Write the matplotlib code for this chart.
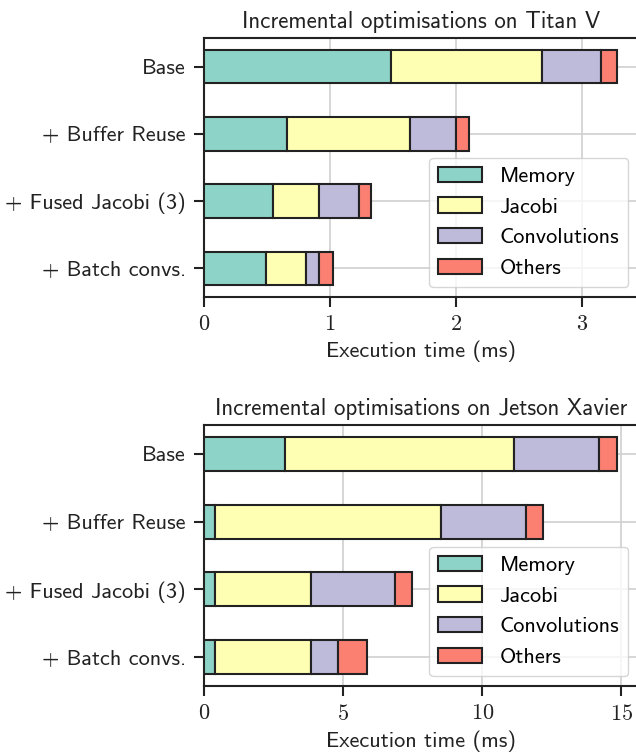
import numpy as np
import matplotlib
matplotlib.use('Agg')
import matplotlib.pyplot as plt

# Data (stacked, in ms).
configs = ['Base', '+ Buffer Reuse', '+ Fused Jacobi (3)', '+ Batch convs.']
parts = ['Memory', 'Jacobi', 'Convolutions', 'Others']
colors = ['#8dd3c7', '#ffffb3', '#bebada', '#fb8072']

titan_memory = [1.48, 0.66, 0.55, 0.49]
titan_jacobi = [1.20, 0.97, 0.36, 0.32]
titan_convs = [0.47, 0.37, 0.32, 0.10]
titan_others = [0.12, 0.10, 0.09, 0.11]

xavier_memory = [2.91, 0.41, 0.40, 0.40]
xavier_jacobi = [8.22, 8.10, 3.45, 3.45]
xavier_convs = [3.07, 3.07, 3.02, 0.96]
xavier_others = [0.65, 0.62, 0.61, 1.04]

plt.rcParams['font.family'] = 'cmss10'
plt.rcParams['mathtext.fontset'] = 'cm'
plt.rcParams['axes.formatter.use_mathtext'] = True
plt.rcParams['font.size'] = 16


def stacked_plot(ax, series, title, xmax, xticks):
    y = np.arange(len(configs))
    left = np.zeros(len(configs))
    for values, name, color in zip(series, parts, colors):
        ax.barh(y, values, left=left, height=0.5, color=color,
                edgecolor='#222222', linewidth=1.5, label=name, zorder=3)
        left += np.array(values)

    ax.set_yticks(y)
    ax.set_yticklabels(configs)
    ax.set_ylim(3.425, -0.425)
    ax.set_xlim(0, xmax)
    ax.set_xticks(xticks)
    ax.set_xticklabels(['$%d$' % t for t in xticks])
    ax.grid(True, color='#d0d0d0', linewidth=1.2, zorder=0)
    ax.set_axisbelow(True)
    for spine in ax.spines.values():
        spine.set_color('#222222')
        spine.set_linewidth(1.5)
    ax.tick_params(axis='both', colors='#222222', width=1.5, length=7,
                   pad=6, labelcolor='#222222', labelsize=16)
    ax.set_xlabel('Execution time (ms)', color='#222222', fontsize=16,
                  labelpad=5)
    ax.set_title(title, color='#222222', fontsize=16.5, pad=7)
    leg = ax.legend(loc='lower right', fontsize=16, handlelength=1.95,
                    borderaxespad=0.45, fancybox=True, framealpha=0.8,
                    labelspacing=0.5)
    leg.get_frame().set_edgecolor('#cccccc')
    for patch in leg.get_patches():
        patch.set_linewidth(1.5)


fig = plt.figure(figsize=(6.36, 7.56), dpi=100)
ax1 = fig.add_axes([204 / 636, 1 - 297 / 756, 434 / 636, 259 / 756])
ax2 = fig.add_axes([204 / 636, 1 - 686 / 756, 434 / 636, 261 / 756])

stacked_plot(ax1, [titan_memory, titan_jacobi, titan_convs, titan_others],
             'Incremental optimisations on Titan V', 3.44, [0, 1, 2, 3])
stacked_plot(ax2, [xavier_memory, xavier_jacobi, xavier_convs, xavier_others],
             'Incremental optimisations on Jetson Xavier', 15.6, [0, 5, 10, 15])

fig.savefig('out.png', dpi=100)
